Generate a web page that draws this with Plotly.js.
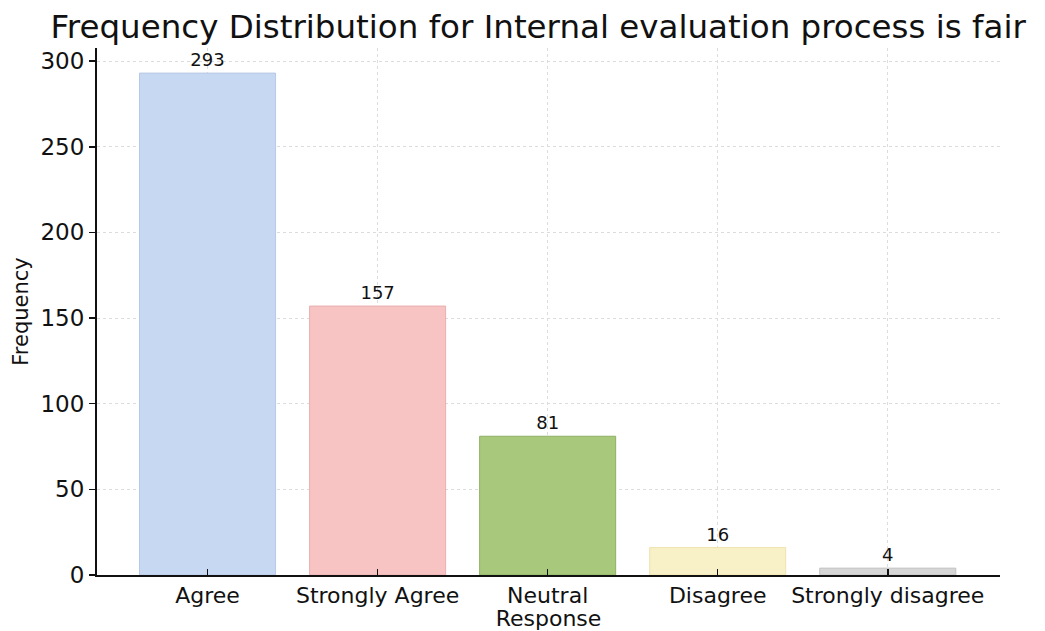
<!DOCTYPE html>
<html>
<head>
<meta charset="utf-8">
<script src="https://cdn.plot.ly/plotly-3.0.1.min.js"></script>
<style>html,body{margin:0;padding:0;background:#fff;}#chart{width:1045px;height:631px;}</style>
</head>
<body>
<div id="chart"></div>
<script>
const categories = ["Agree", "Strongly Agree", "Neutral", "Disagree", "Strongly disagree"];
const frequencies = [293, 157, 81, 16, 4];
const barColors = ["#c7d8f3", "#f7c3c3", "#a8c97c", "#f8f0c6", "#d6d6d6"];
const edgeColors = ["#b7c8e6", "#eab0b0", "#8fb064", "#efe2b0", "#c0c0c0"];
const yTicks = [0, 50, 100, 150, 200, 250, 300];

const trace = {
  type: "bar",
  x: categories,
  y: frequencies,
  text: frequencies.map(String),
  textposition: "outside",
  cliponaxis: false,
  textfont: {family: "DejaVu Sans", size: 18, color: "#111"},
  marker: {color: barColors, line: {color: edgeColors, width: 1}},
  width: 0.8,
  hoverinfo: "x+y"
};

const layout = {
  width: 1045,
  height: 631,
  margin: {l: 97, r: 45, t: 48, b: 56},
  paper_bgcolor: "#fff",
  plot_bgcolor: "#fff",
  showlegend: false,
  font: {family: "DejaVu Sans", color: "#111"},
  title: {
    text: "Frequency Distribution for Internal evaluation process is fair",
    font: {family: "DejaVu Sans", size: 32.5, color: "#111"},
    x: 0.515, xanchor: "center", y: 0.958, yanchor: "middle"
  },
  xaxis: {
    type: "category",
    range: [-0.65, 4.66],
    showline: true, linecolor: "#111", linewidth: 2,
    ticks: "inside", ticklen: 6, tickcolor: "#111", tickwidth: 1.5,
    showgrid: true, gridcolor: "#dcdcdc", griddash: "dot", gridwidth: 1,
    tickfont: {family: "DejaVu Sans", size: 22, color: "#111"},
    title: {text: "Response", font: {family: "DejaVu Sans", size: 22, color: "#111"}, standoff: 2},
    zeroline: false
  },
  yaxis: {
    range: [0, 307.65],
    tickvals: yTicks,
    ticktext: yTicks.map(String),
    showline: true, linecolor: "#111", linewidth: 2,
    ticks: "outside", ticklen: 6, tickcolor: "#111", tickwidth: 1.5,
    showgrid: true, gridcolor: "#dcdcdc", griddash: "dot", gridwidth: 1,
    tickfont: {family: "DejaVu Sans", size: 23, color: "#111"},
    title: {text: "Frequency", font: {family: "DejaVu Sans", size: 21, color: "#111"}, standoff: 6},
    zeroline: false
  },
  bargap: 0.2
};

Plotly.newPlot("chart", [trace], layout, {displayModeBar: false, staticPlot: true});
</script>
</body>
</html>
